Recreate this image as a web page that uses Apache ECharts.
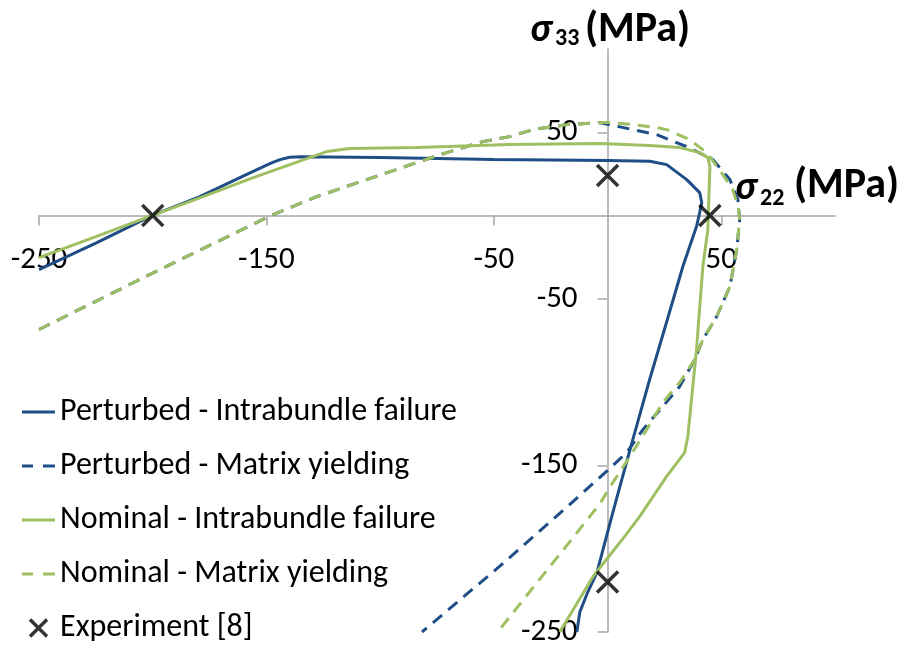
<!DOCTYPE html>
<html>
<head>
<meta charset="utf-8">
<script src="https://cdn.jsdelivr.net/npm/echarts@6/dist/echarts.min.js"></script>
<style>
html,body{margin:0;padding:0;background:#fff;}
#chart{width:904px;height:645px;}
</style>
</head>
<body>
<div id="chart"></div>
<script>
const FONT = 'Carlito, Lato, "Open Sans", sans-serif';
const BLUE = '#1F4E87';
const GREEN = '#9FC062';

const xTicks = [-250, -150, -50, 50];
const yTicks = [-250, -150, -50, 50];

const perturbedIntrabundle = [
  [-250,-32.4],[-225,-16.5],[-200.4,0],[-179.3,11.4],[-157,25.8],[-148,31.5],[-144,33.6],
  [-139.8,35],[-135,35.3],[-100,34.8],[-50,33.7],[0,33],[18.6,32.6],[26,30.6],[34.8,21.6],
  [40.5,13.8],[41.4,7.8],[40.5,1.8],[39.1,-6.6],[33.1,-30.6],[25.9,-64.2],[18.5,-98.4],
  [11.1,-134.5],[5.4,-162.7],[2.3,-178.3],[-4.7,-214.3],[-8.7,-226],[-12.2,-238],[-13.5,-250]
];
const perturbedMatrix = [
  [-250,-68.4],[-200,-34.5],[-148,0],[-127.9,11.4],[-105.9,21.6],[-83.9,31.8],[-69.4,38.4],
  [-54.9,44.4],[-43,47.4],[-32.9,51.6],[-17.9,54.6],[-3.4,55.8],[11.1,51.6],[21.6,48.6],
  [34.8,41.4],[46.3,33.6],[53.8,21.6],[57.3,9.6],[58.1,-2.4],[56.8,-20.4],[53.8,-42.6],
  [48,-60.6],[41.9,-74.4],[38.3,-86.4],[31.7,-102.6],[24.3,-114.6],[15.5,-128.5],[8.4,-142.3],
  [0,-153],[-17.9,-175],[-32.9,-193],[-47.4,-210.5],[-81.6,-250]
];
const nominalIntrabundle = [
  [-250,-25.2],[-225,-12.6],[-200.4,0],[-179,10.8],[-157,22.2],[-131,34.8],[-123.5,38.4],
  [-113.3,40.2],[-83.9,40.8],[-43,42.6],[-3.4,43.2],[18.6,42],[31.7,40.8],[40.5,37.8],
  [44.1,34.8],[45,29.4],[44.5,9.6],[44.1,-8.4],[41.9,-30.6],[39.1,-80.4],[35.3,-132.6],
  [33.9,-142.3],[25.9,-156.7],[14.1,-180.7],[5.4,-196.3],[-6.4,-216.7],[-21,-250]
];
const nominalMatrix = [
  [-250,-68.4],[-200,-34.5],[-148,0],[-127.9,11.4],[-105.9,21.6],[-83.9,31.8],[-69.4,38.4],
  [-54.9,44.4],[-43,47.4],[-32.9,51.6],[-17.9,54.6],[-3.4,55.8],[1,55.8],[11.1,54.6],
  [21.6,52.8],[26,51.6],[36.1,45.6],[43.6,37.8],[50.5,25],[55,15.6],[57.5,5],[58,-2.4],
  [56.8,-20.4],[53.8,-42.6],[48,-60.6],[41.9,-74.4],[38.3,-86.4],[31.7,-100.2],[24.3,-112.2],
  [17.2,-128.5],[9.8,-144.7],[2.3,-160.3],[-3.4,-173],[-17.9,-198],[-32.9,-223.5],[-48.3,-250]
];
const experiment = [[-200,0],[0,24],[45,0],[0,-220]];

const seriesNames = [
  'Perturbed - Intrabundle failure',
  'Perturbed - Matrix yielding',
  'Nominal - Intrabundle failure',
  'Nominal - Matrix yielding',
  'Experiment [8]'
];

const chart = echarts.init(document.getElementById('chart'));
const axisColor = '#A6A6A6';
const dash = [12, 8];
const SOLID_ICON = 'path://M0,0H33V3H0Z';
const DASH_ICON = 'path://M0,0H11V3H0ZM21,0H33V3H21Z';
const CROSS = 'path://M0,0L10,10M10,0L0,10';

function lineSeries(name, data, color, dashed) {
  return {
    name: name, type: 'line', data: data, symbol: 'none', smooth: false,
    lineStyle: { color: color, width: 3, type: dashed ? dash : 'solid', cap: 'butt' },
    itemStyle: { color: color, borderWidth: 0 }
  };
}

const baseAxis = {
  type: 'value', min: -250, max: 100,
  axisLine: { onZero: false, lineStyle: { color: axisColor, width: 1.5 } },
  splitLine: { show: false }
};

const option = {
  animation: false,
  backgroundColor: '#fff',
  grid: { left: 39, right: 69, top: 49, bottom: 13, containLabel: false, outerBoundsMode: 'none' },
  xAxis: Object.assign({}, baseAxis, {
    axisTick: { show: true, customValues: xTicks, length: 10, lineStyle: { color: axisColor, width: 1.5 } },
    axisLabel: { customValues: xTicks, fontSize: 31, color: '#000', fontFamily: FONT, margin: 29 }
  }),
  yAxis: Object.assign({}, baseAxis, {
    axisTick: { show: true, customValues: yTicks, length: 10, lineStyle: { color: axisColor, width: 1.5 } },
    axisLabel: { customValues: yTicks, fontSize: 31, color: '#000', fontFamily: FONT, margin: 30 }
  }),
  legend: {
    orient: 'vertical', left: 22, top: 396, padding: 0,
    itemWidth: 33, itemHeight: 17, itemGap: 22,
    itemStyle: { borderWidth: 0 },
    textStyle: { fontSize: 32, color: '#000', fontFamily: FONT, lineHeight: 32 },
    data: [
      { name: seriesNames[0], icon: SOLID_ICON },
      { name: seriesNames[1], icon: DASH_ICON },
      { name: seriesNames[2], icon: SOLID_ICON },
      { name: seriesNames[3], icon: DASH_ICON },
      { name: seriesNames[4], icon: CROSS, itemStyle: { color: 'rgba(0,0,0,0)', borderColor: '#000', borderWidth: 3.5 } }
    ]
  },
  graphic: [
    { type: 'text', left: 530, top: 11, style: { text: 'σ', font: 'italic bold 40px ' + FONT, fill: '#000' } },
    { type: 'text', left: 555, top: 27, style: { text: '33', font: 'bold 24px ' + FONT, fill: '#000' } },
    { type: 'text', left: 585, top: 9, style: { text: '(MPa)', font: 'bold 42px ' + FONT, fill: '#000' } },
    { type: 'text', left: 735, top: 169, style: { text: 'σ', font: 'italic bold 40px ' + FONT, fill: '#000' } },
    { type: 'text', left: 760, top: 187, style: { text: '22', font: 'bold 24px ' + FONT, fill: '#000' } },
    { type: 'text', left: 794, top: 165, style: { text: '(MPa)', font: 'bold 42px ' + FONT, fill: '#000' } }
  ],
  series: [
    lineSeries(seriesNames[0], perturbedIntrabundle, BLUE, false),
    lineSeries(seriesNames[1], perturbedMatrix, BLUE, true),
    lineSeries(seriesNames[2], nominalIntrabundle, GREEN, false),
    lineSeries(seriesNames[3], nominalMatrix, GREEN, true),
    {
      name: seriesNames[4], type: 'scatter', data: experiment,
      symbol: CROSS, symbolSize: 21,
      itemStyle: { color: 'rgba(0,0,0,0)', borderColor: '#000', borderWidth: 3.5 },
      z: 5
    }
  ]
};
chart.setOption(option);

// Move axes so they cross at the data origin (0, 0)
const rect = chart.getModel().getComponent('grid').coordinateSystem.getRect();
const origin = chart.convertToPixel({ gridIndex: 0 }, [0, 0]);
chart.setOption({
  xAxis: { offset: -(rect.y + rect.height - origin[1]) },
  yAxis: { offset: -(origin[0] - rect.x) }
});
</script>
</body>
</html>
